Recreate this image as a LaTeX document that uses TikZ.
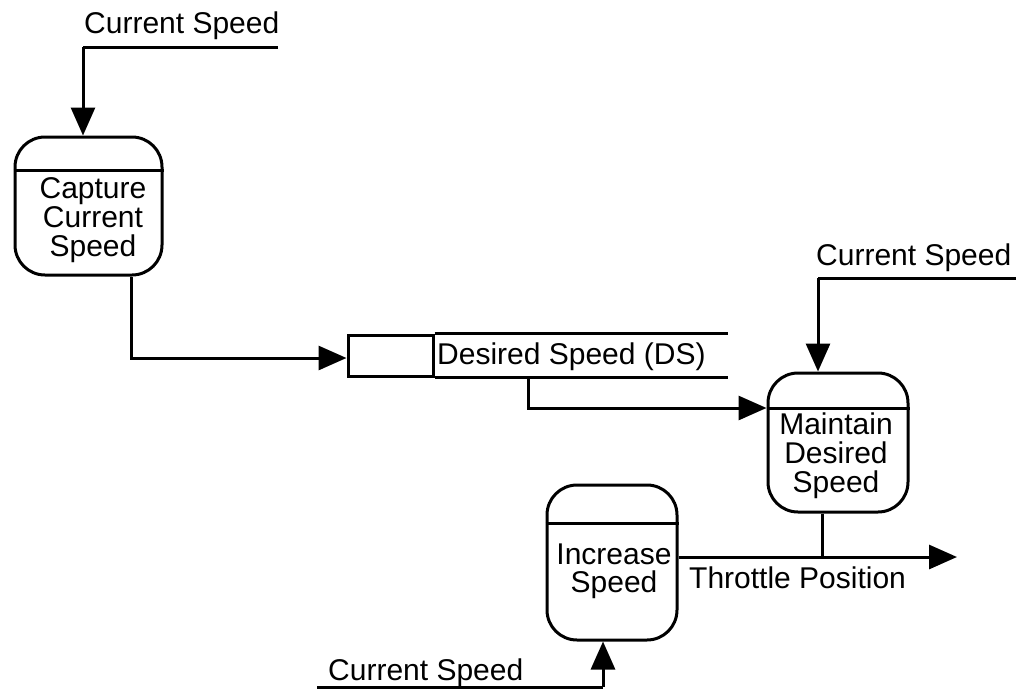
\documentclass[tikz,border=0pt]{standalone}
\usepackage{fontspec}
\setmainfont{Liberation Sans}
\usetikzlibrary{arrows.meta}
\begin{document}
\begin{tikzpicture}[x=1pt,y=-1pt,
  every node/.style={inner sep=0pt, font=\fontsize{30}{29}\selectfont},
  proc/.style={draw, line width=3pt, rounded corners=30pt},
  flow/.style={line width=3pt},
  arr/.style={flow, -{Triangle[length=28pt,width=24pt]}},
  lbl/.style={anchor=base west},
  boxtext/.style={anchor=north, align=center}]
\useasboundingbox (0,0) rectangle (1026,689);

% process boxes
\node[proc, minimum width=147pt, minimum height=138pt] (cap) at (88.5,206) {};
\node[proc, minimum width=140pt, minimum height=139pt] (mnt) at (838,442.5) {};
\node[proc, minimum width=130pt, minimum height=155pt] (inc) at (612,562.5) {};
\draw[flow] (cap.west |- 0,170) -- (cap.east |- 0,170);
\draw[flow] (mnt.west |- 0,408) -- (mnt.east |- 0,408);
\draw[flow] (inc.west |- 0,523) -- (inc.east |- 0,523);
\node[boxtext] (capt) at (93,177) {Capture\\Current\\Speed};
\node[boxtext] (mntt) at (836,413) {Maintain\\Desired\\Speed};
\node[boxtext, font=\fontsize{30}{27.5}\selectfont] (inct) at (614,544) {Increase\\Speed};

% data store
\node[draw, line width=3pt, minimum width=85pt, minimum height=41pt] (dsl) at (390.5,355.5) {};
\coordinate (dsr) at (728,355.5);
\draw[flow] (dsl.north east) -- (dsl.north east -| dsr);
\draw[flow] (dsl.south east) -- (dsl.south east -| dsr);
\node[lbl] (dst) at (437,364) {Desired Speed (DS)};

% external flows "Current Speed"
\node[lbl] (cs1) at (84,33) {Current Speed};
\coordinate (cs1r) at (278,47);
\coordinate (cs1l) at (83,47);
\draw[flow] (cs1r) -- (cs1l);
\draw[arr] (cs1l) -- (cs1l |- cap.north);

\node[lbl] (cs2) at (816,265) {Current Speed};
\coordinate (cs2r) at (1016,278);
\coordinate (cs2l) at (818,278);
\draw[flow] (cs2r) -- (cs2l);
\draw[arr] (cs2l) -- (cs2l |- mnt.north);

\node[lbl] (cs3) at (328,680) {Current Speed};
\coordinate (cs3l) at (317,687);
\coordinate (cs3r) at (603,687);
\draw[flow] (cs3l) -- (cs3r);
\draw[arr] (cs3r) -- (cs3r |- inc.south);

% capture -> store
\coordinate (c2s) at (131,358);
\draw[arr] (cap.south -| c2s) -- (c2s) -- (c2s -| dsl.west);

% store -> maintain
\coordinate (s2m) at (528,408);
\draw[arr] (dsl.south east -| s2m) -- (s2m) -- (s2m -| mnt.west);

% throttle position
\coordinate (thr) at (957,557);
\coordinate (mj) at (822,557);
\draw[arr] (inc.east |- thr) -- (thr);
\draw[flow] (mnt.south -| mj) -- (mj);
\node[lbl] (thrt) at (689,588) {Throttle Position};
\end{tikzpicture}
\end{document}
